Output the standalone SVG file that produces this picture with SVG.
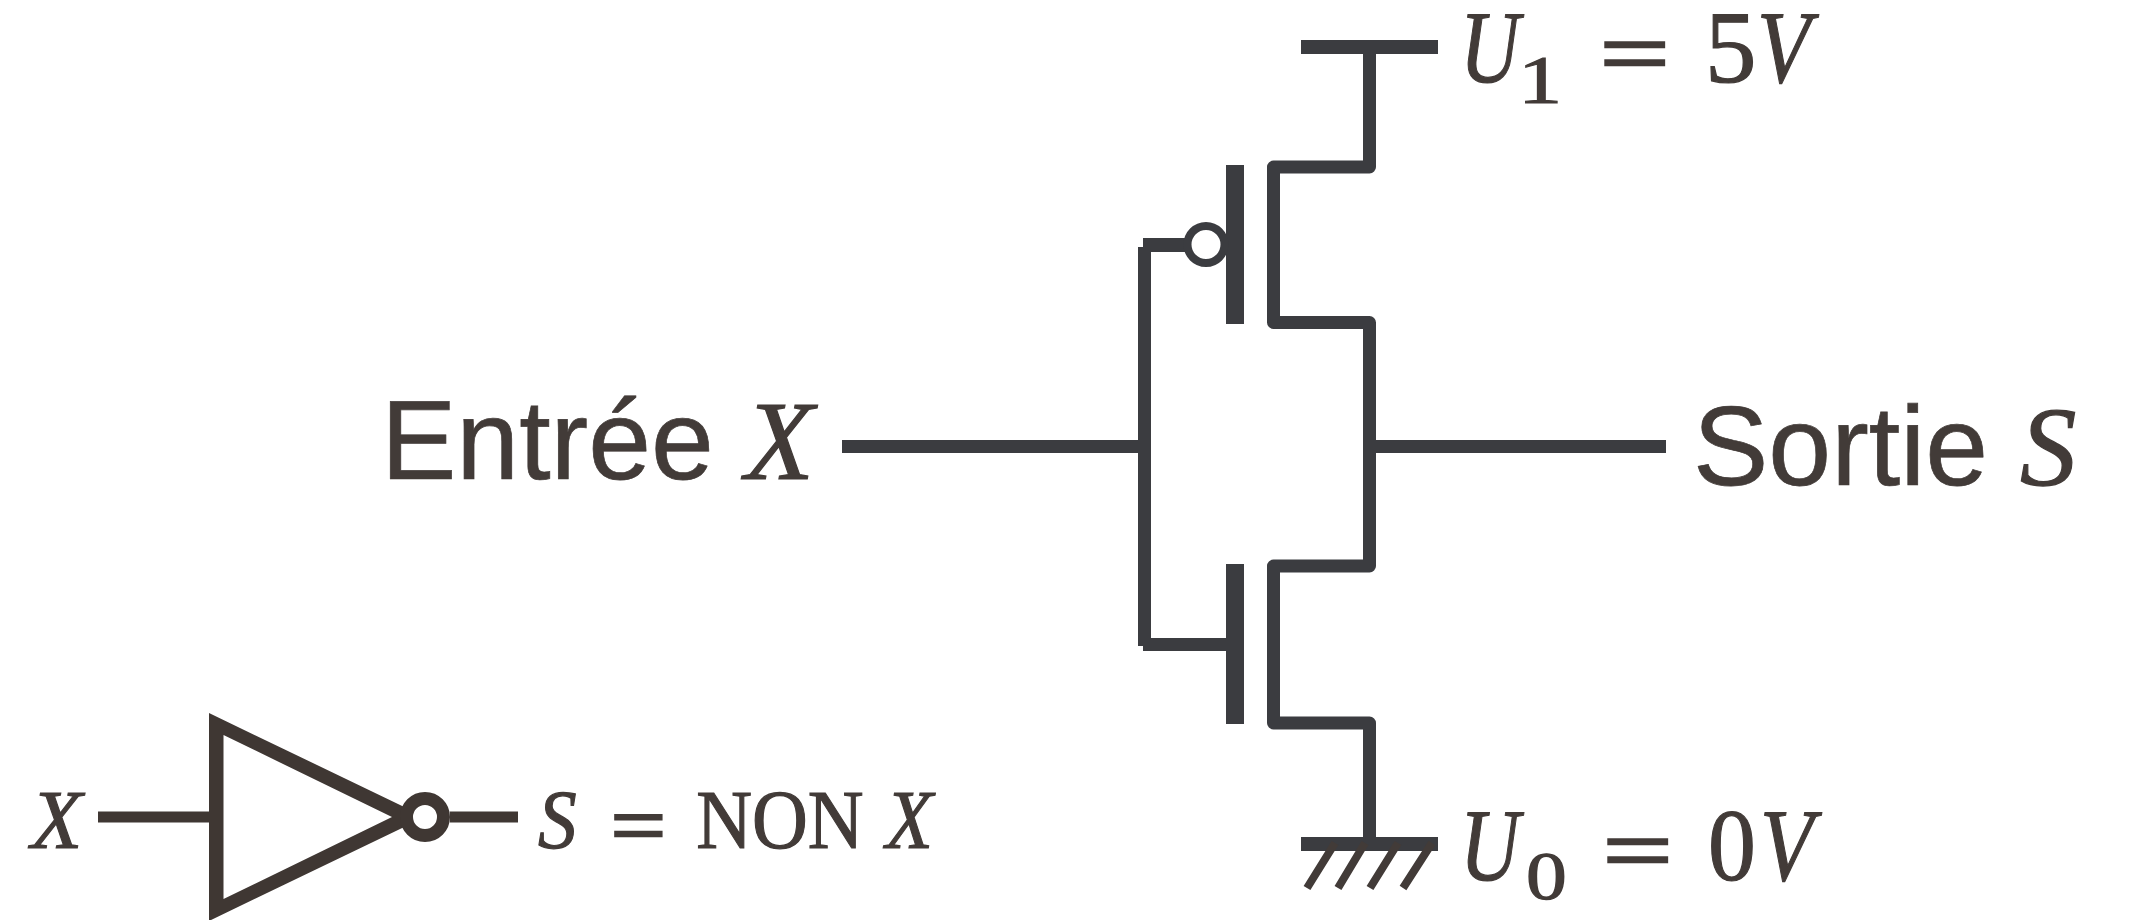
<svg xmlns="http://www.w3.org/2000/svg" width="2129" height="920" viewBox="0 0 2129 920">
<style>
text{text-rendering:geometricPrecision}
.sans{font-family:"Liberation Sans",Arial,sans-serif;font-size:113px;fill:#423b38;stroke:#423b38;stroke-width:.7}
.math{font-family:"Liberation Serif","Times New Roman",serif;fill:#423b38;stroke:#423b38;stroke-width:1.2}
.eq{font-family:"DejaVu Serif",serif;fill:#423b38}
.i{font-style:italic}
.w{fill:none;stroke:#3b3c40;stroke-width:13;stroke-linejoin:round}
.b{fill:#3b3c40}
.k{stroke:#3f3733;fill:none}
</style>
<rect width="2129" height="920" fill="#fff"/>
<g id="connectors">
<path class="w" d="M1369.500 54V167H1273.500V322.500H1369.500V566H1273.500V723H1369.500V840"/>
<path class="w" d="M1144.500 247V646"/>
<path class="w" d="M1143 245H1190" style="stroke-width:14"/>
<path class="w" d="M1143 644.500H1226" style="stroke-width:13"/>
<rect class="b" x="842" y="440" width="296" height="13"/>
<rect class="b" x="1376" y="440" width="290" height="13"/>
<path class="k" style="stroke-width:11" d="M98 817H211M450 817H518"/>
</g>
<g id="vdd">
<rect class="b" x="1301" y="40" width="137" height="14"/>
<text class="math i" transform="translate(1460,82) scale(.8,1)" font-size="103">U</text>
<text class="math" transform="translate(1518,103) scale(1.3,1)" font-size="68">1</text>
<text class="eq" transform="translate(1594,82) scale(1.08,1)" font-size="90">=</text>
<text class="math" transform="translate(1705,82)" font-size="103">5</text>
<text class="math i" transform="translate(1757,82) scale(.85,1)" font-size="103">V</text>
</g>
<g id="pmos">
<rect class="b" x="1226" y="165" width="18" height="159"/>
<circle cx="1206" cy="244.500" r="18.500" fill="#fff" stroke="#3b3c40" stroke-width="8"/>
</g>
<g id="nmos">
<rect class="b" x="1226" y="564" width="18" height="160"/>
</g>
<g id="ground">
<rect class="b" x="1301" y="837" width="137" height="14"/>
<path d="M1335 843L1307 888M1365 843L1338 888M1398 843L1370 888M1432 843L1403 888" fill="none" stroke="#423b38" stroke-width="8"/>
<text class="math i" transform="translate(1460,880) scale(.8,1)" font-size="103">U</text>
<text class="math" transform="translate(1526,899) scale(1.2,1)" font-size="68">0</text>
<text class="eq" transform="translate(1597,879) scale(1.08,1)" font-size="90">=</text>
<text class="math" transform="translate(1708,880) scale(.93,1)" font-size="103">0</text>
<text class="math i" transform="translate(1760,880) scale(.85,1)" font-size="103">V</text>
</g>
<g id="input"><text class="sans" x="381" y="479">Entrée <tspan class="math i" x="745">X</tspan></text></g>
<g id="output"><text class="sans" x="1693" y="485">Sortie <tspan class="math i" x="2020">S</tspan></text></g>
<g id="inverter">
<path fill="#3f3733" fill-rule="evenodd" d="M209 713L425 817L209 921ZM223.500 735V899L392 817Z"/>
<circle cx="425" cy="817" r="18.500" fill="#fff" stroke="#3f3733" stroke-width="13"/>
<text class="math i" x="31" y="848" font-size="84">X</text>
<text class="math" transform="translate(538,848) scale(.92,1)" font-size="84"><tspan class="i">S</tspan><tspan class="eq" style="stroke:none" x="74" y="4">=</tspan><tspan x="172" y="0">NON</tspan><tspan class="i" x="378">X</tspan></text>
</g>
</svg>
